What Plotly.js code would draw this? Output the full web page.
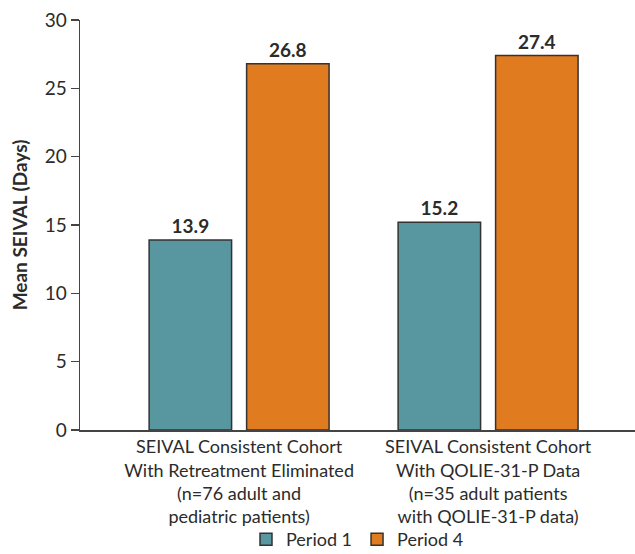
<!DOCTYPE html>
<html>
<head>
<meta charset="utf-8">
<script src="https://cdn.plot.ly/plotly-3.0.1.min.js"></script>
<style>html,body{margin:0;padding:0;background:#fff;}#chart{width:635px;height:554px;}</style>
</head>
<body>
<div id="chart"></div>
<script>
const categories = [
  "SEIVAL Consistent Cohort<br>With Retreatment Eliminated<br>(n=76 adult and<br>pediatric patients)",
  "SEIVAL Consistent Cohort<br>With QOLIE-31-P Data<br>(n=35 adult patients<br>with QOLIE-31-P data)"
];
const seriesNames = ["Period 1", "Period 4"];
const period1 = [13.9, 15.2];
const period4 = [26.8, 27.4];
const yTicks = [0, 5, 10, 15, 20, 25, 30];

const font = "Lato, 'Open Sans', sans-serif";
const ink = "#2b2b2b";

function barTrace(name, vals, color) {
  return {
    type: "bar", name: name, x: categories, y: vals,
    marker: {color: color, line: {color: "#333333", width: 1.5}},
    text: vals.map(v => "<b>" + v.toFixed(1) + "</b>"),
    textposition: "outside", cliponaxis: false,
    textfont: {family: font, size: 19, color: ink},
    hoverinfo: "none"
  };
}

const data = [
  barTrace(seriesNames[0], period1, "#5897a0"),
  barTrace(seriesNames[1], period4, "#e07b1f")
];

const layout = {
  width: 635, height: 554,
  margin: {l: 80, r: 0, t: 20, b: 124, autoexpand: false},
  paper_bgcolor: "#fff", plot_bgcolor: "#fff",
  barmode: "group", bargap: 0.217, bargroupgap: 0.154,
  font: {family: font, color: ink},
  showlegend: true,
  legend: {
    orientation: "h", x: 0.5, xanchor: "center",
    yref: "container", y: 0.026, yanchor: "middle",
    bgcolor: "rgba(0,0,0,0)",
    font: {family: font, size: 18, color: ink}, traceorder: "normal",
    itemwidth: 30
  },
  xaxis: {
    type: "category", range: [-0.639, 1.59], automargin: false,
    showline: true, linecolor: "#444", linewidth: 1.5,
    ticks: "", showgrid: false, zeroline: false,
    tickfont: {family: font, size: 18, color: ink}
  },
  yaxis: {
    range: [0, 30], tickvals: yTicks, ticktext: yTicks.map(String), automargin: false,
    showline: true, linecolor: "#444", linewidth: 1.5,
    ticks: "outside", ticklen: 8, tickcolor: "#444", tickwidth: 1.5,
    showgrid: false, zeroline: false,
    tickfont: {family: font, size: 19, color: ink},
    title: {text: "<b>Mean SEIVAL (Days)</b>", font: {family: font, size: 19, color: ink}, standoff: 12}
  }
};

Plotly.newPlot("chart", data, layout, {staticPlot: true, displayModeBar: false});
</script>
</body>
</html>
